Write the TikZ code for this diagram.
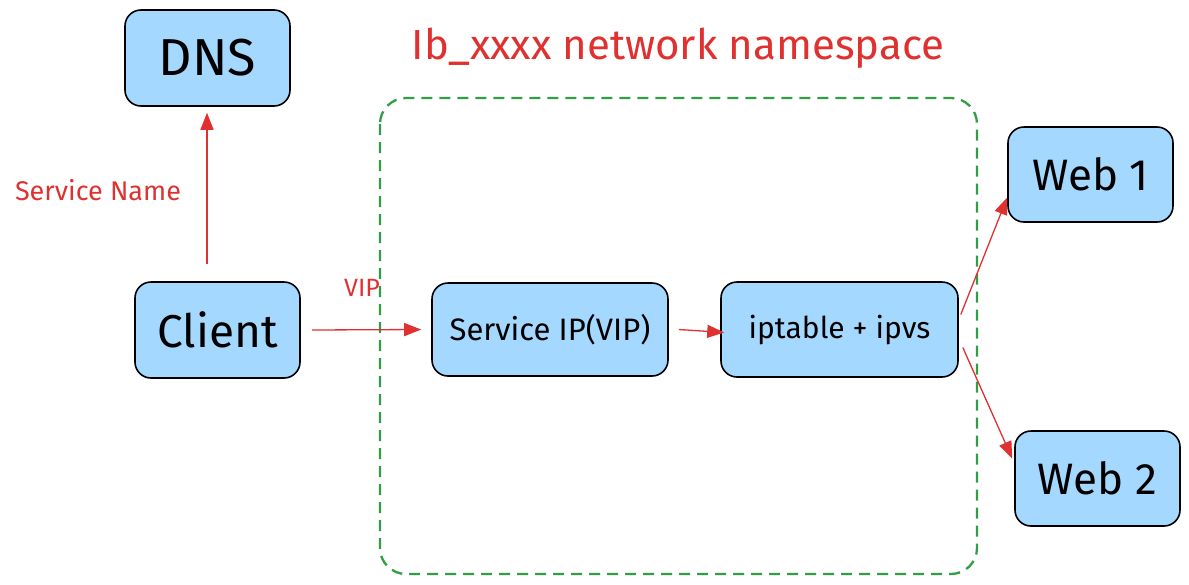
\documentclass[tikz,border=0pt]{standalone}
\usepackage{fontspec}
\setmainfont{Fira Sans}
\usetikzlibrary{arrows.meta}
\definecolor{boxfill}{HTML}{A5D8FF}
\definecolor{exred}{HTML}{E03131}
\definecolor{exgreen}{HTML}{2F9E44}
\tikzset{
  box/.style={draw=black, line width=1.6pt, fill=boxfill, rounded corners=16pt, inner sep=0pt},
  flow/.style={draw=exred, line width=1.3pt, -{Triangle[length=17pt,width=13pt]}},
  lbl/.style={text=exred, inner sep=0pt}
}
\begin{document}
\begin{tikzpicture}[x=1pt,y=-1pt]
\useasboundingbox (0,0) rectangle (1189,584);
% namespace
\draw[exgreen, line width=2.3pt, dash pattern=on 11pt off 7pt, rounded corners=26pt] (380,98) rectangle (977,574);
\node[lbl, font=\fontsize{42}{46}\selectfont] (title) at (678,48) {Ib\_xxxx network namespace};
% boxes
\node[box, minimum width=165pt, minimum height=96pt, font=\fontsize{52}{56}\selectfont] (dns) at (207.5,58) {DNS};
\node[box, minimum width=165pt, minimum height=96pt, font=\fontsize{46}{50}\selectfont] (client) at (217.5,330) {Client};
\node[box, minimum width=236pt, minimum height=93pt, font=\fontsize{31}{34}\selectfont] (svc) at (550,329.5) {Service IP(VIP)};
\node[box, minimum width=237pt, minimum height=95pt, font=\fontsize{30}{33}\selectfont] (ipt) at (839.5,329.5) {iptable + ipvs};
\node[box, minimum width=165pt, minimum height=95pt, font=\fontsize{44}{48}\selectfont] (web1) at (1090.5,174.5) {Web 1};
\node[box, minimum width=165pt, minimum height=95pt, font=\fontsize{44}{48}\selectfont] (web2) at (1097.5,478.5) {Web 2};
% connectors
\coordinate (cTop) at (207,264);
\coordinate (cRight) at (312,330);
\draw[flow] (cTop) -- ([yshift=-6pt]dns.south -| cTop);
\draw[flow] (cRight) -- ([xshift=-10pt]svc.west);
\draw[flow] ([xshift=10pt]svc.east) -- ([xshift=4pt,yshift=-3pt]ipt.west);
\draw[flow] ([xshift=2pt,yshift=15pt]ipt.east) -- ([yshift=-23pt]web1.west);
\draw[flow] ([xshift=4pt,yshift=-18pt]ipt.east) -- ([xshift=-2pt,yshift=20pt]web2.west);
% labels
\node[lbl, font=\fontsize{27}{29}\selectfont] (sname) at (98,190) {Service Name};
\node[lbl, font=\fontsize{25}{28}\selectfont] (vip) at (362,288) {VIP};
\end{tikzpicture}
\end{document}
